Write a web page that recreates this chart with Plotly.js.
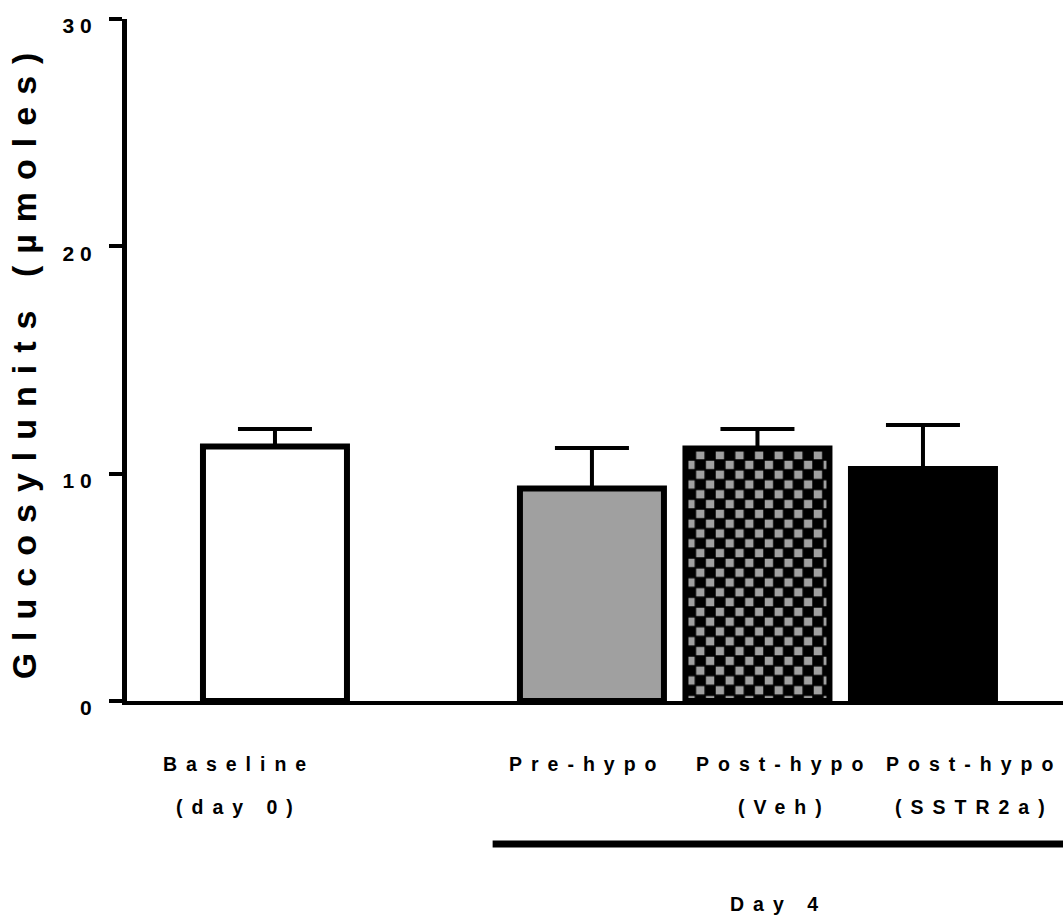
<!DOCTYPE html>
<html><head><meta charset="utf-8">
<script src="https://cdn.plot.ly/plotly-3.0.1.min.js"></script>
<style>
html,body{margin:0;padding:0;background:#fff;}
#chart{width:1063px;height:917px;}
.ytick text{letter-spacing:6px;}
text.ytitle{letter-spacing:12px;}
.annotation-text{letter-spacing:9px;}
</style></head><body><div id="chart"></div>
<script>
// ---- data ----
const categories = ['Baseline (day 0)', 'Pre-hypo', 'Post-hypo (Veh)', 'Post-hypo (SSTR2a)'];
const labelLine1 = ['Baseline', 'Pre-hypo', 'Post-hypo', 'Post-hypo'];
const labelLine2 = ['(day 0)', '', '(Veh)', '(SSTR2a)'];
const meanValues = [11.20, 9.35, 11.11, 10.21];
const semValues  = [0.77, 1.78, 0.86, 1.93];
const yTicks = [0, 10, 20, 30];
const groupLabel = 'Day 4';
const yTitle = 'Glucosylunits (µmoles)';

// ---- styling / layout ----
const GAP = 0.915;                       // extra space between baseline and day-4 group
const xpos = categories.map((c, i) => i === 0 ? 0 : i + GAP);
const fillColors = ['#ffffff', '#a0a0a0', '#000000', '#000000'];
const patternShapes = ['', '', '.', ''];
const labelX = [-0.215, 1.888, 3.078, 4.224];
const axisFont = 'Liberation Sans, Arial, sans-serif';
const labelFont = 'Liberation Sans, Arial, sans-serif';

const trace = {
  type: 'bar',
  x: xpos,
  y: meanValues,
  width: 0.87,
  hovertext: categories,
  hoverinfo: 'text+y',
  textposition: 'none',
  marker: {
    color: fillColors,
    line: {color: '#000', width: 6},
    pattern: {shape: patternShapes, fgcolor: '#a0a0a0', bgcolor: '#000000', size: 19.6, solidity: 0.3, fillmode: 'replace'}
  },
  error_y: {
    type: 'data', symmetric: false,
    array: semValues, arrayminus: semValues.map(() => 0),
    color: '#000', thickness: 4, width: 37
  },
  showlegend: false
};

const annotations = [];
labelLine1.forEach((t, i) => {
  annotations.push({text: t, x: labelX[i], xref: 'x', y: -0.0924, yref: 'paper',
    xanchor: 'center', yanchor: 'middle', showarrow: false,
    font: {family: labelFont, size: 19.5, weight: 'bold', color: '#000'}});
  if (labelLine2[i]) annotations.push({text: labelLine2[i], x: labelX[i], xref: 'x', y: -0.1547, yref: 'paper',
    xanchor: 'center', yanchor: 'middle', showarrow: false,
    font: {family: labelFont, size: 19.5, weight: 'bold', color: '#000'}});
});
annotations.push({text: groupLabel, x: 3.045, xref: 'x', y: -0.2975, yref: 'paper',
  xanchor: 'center', yanchor: 'middle', showarrow: false,
  font: {family: labelFont, size: 19.5, weight: 'bold', color: '#000'}});

const layout = {
  width: 1063, height: 917,
  margin: {l: 127, r: 0, t: 19, b: 216, pad: 0},
  paper_bgcolor: '#fff', plot_bgcolor: '#fff',
  bargap: 0,
  xaxis: {range: [-0.894, 4.761], showline: true, linewidth: 4, linecolor: '#000',
    showgrid: false, zeroline: false, showticklabels: false, ticks: '', fixedrange: true},
  yaxis: {range: [0, 30], tickvals: yTicks, ticks: 'outside', ticklen: 13, tickwidth: 4,
    tickcolor: '#000', showline: true, linewidth: 5, linecolor: '#000', showgrid: false, zeroline: false,
    tickfont: {family: axisFont, size: 21, weight: 'bold', color: '#000'}, ticklabelshift: 7, ticklabelstandoff: 7,
    title: {text: yTitle, standoff: 17, font: {family: axisFont, size: 34, weight: 'bold', color: '#000'}},
    fixedrange: true},
  shapes: [{type: 'line', xref: 'x', yref: 'paper', x0: xpos[1] - 0.6, x1: 5.3, y0: -0.2097, y1: -0.2097,
    line: {color: '#000', width: 7}}],
  annotations: annotations
};

Plotly.newPlot('chart', [trace], layout, {displayModeBar: false, staticPlot: true}).then(gd => {
  // turn the dotted pattern into a checkerboard
  const ns = 'http://www.w3.org/2000/svg';
  gd.querySelectorAll('pattern').forEach(p => {
    const w = parseFloat(p.getAttribute('width')) || 19.6;
    const h = parseFloat(p.getAttribute('height')) || 19.6;
    while (p.firstChild) p.removeChild(p.firstChild);
    const mk = (x, y, ww, hh, f) => {
      const r = document.createElementNS(ns, 'rect');
      r.setAttribute('x', x); r.setAttribute('y', y);
      r.setAttribute('width', ww); r.setAttribute('height', hh);
      r.setAttribute('fill', f); p.appendChild(r);
    };
    mk(0, 0, w, h, '#000000');
    const s = w / 2, t = h / 2, g = s * 0.85, gh = t * 0.85, ox = (s - g) / 2, oy = (t - gh) / 2;
    mk(ox, oy, g, gh, '#a0a0a0');
    mk(s + ox, t + oy, g, gh, '#a0a0a0');
  });
});
</script></body></html>
